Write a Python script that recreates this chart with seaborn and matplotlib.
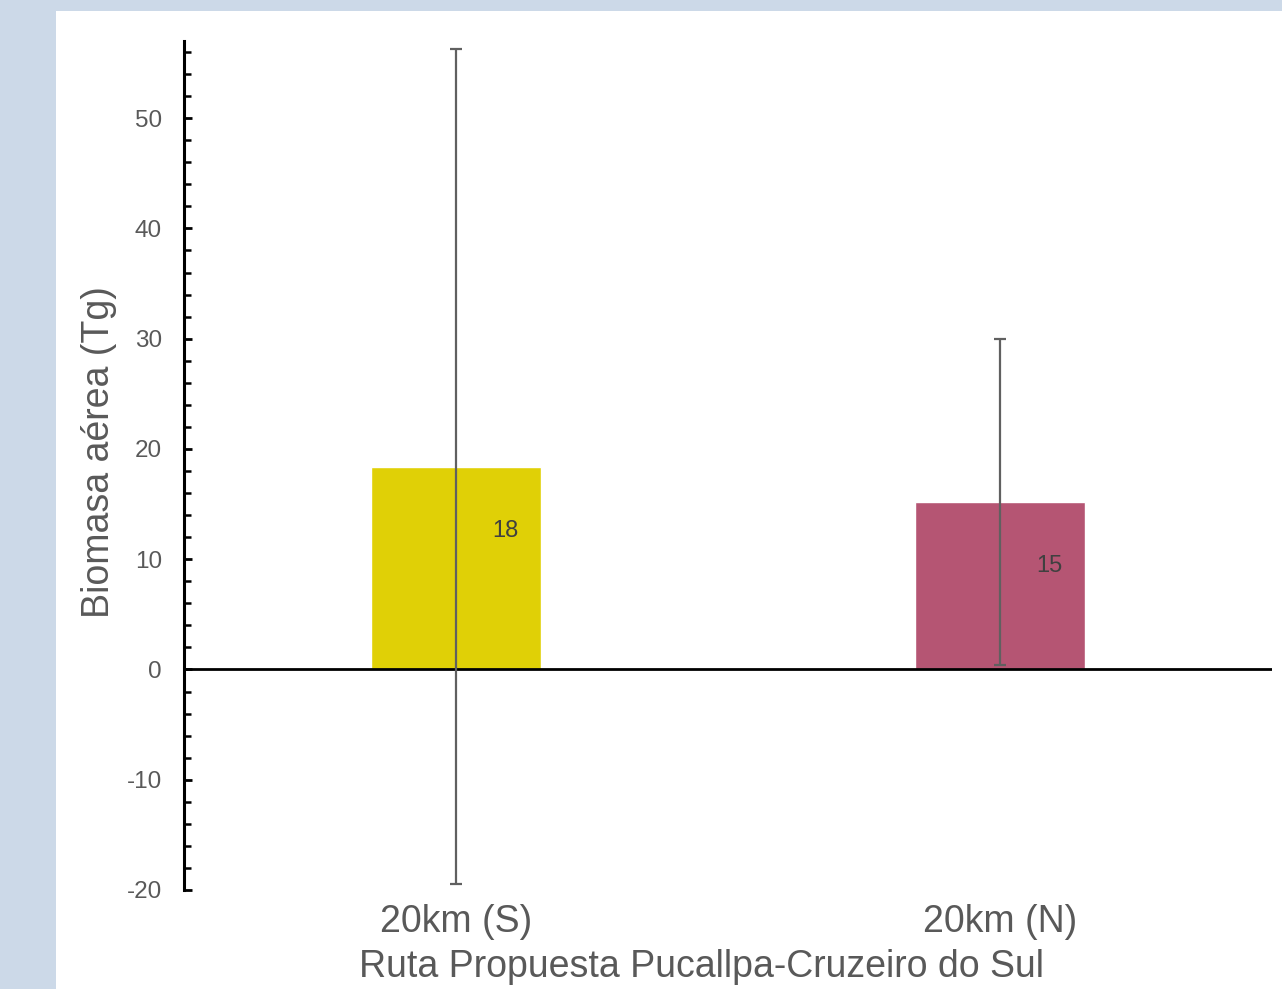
import matplotlib
matplotlib.use("Agg")
import matplotlib.pyplot as plt
import seaborn as sns
import pandas as pd
from matplotlib.patches import Rectangle
from matplotlib.ticker import MultipleLocator

# DATA
categories = ["20km (S)", "20km (N)"]
biomass = [18.4, 15.2]
errors = [37.9, 14.8]
bar_labels = ["18", "15"]
colors = ["#E0D006", "#B55573"]

# STYLE
sns.set_theme(style="white")
plt.rcParams["font.family"] = ["Liberation Sans", "DejaVu Sans"]
plt.rcParams["axes.unicode_minus"] = False

df = pd.DataFrame({"ruta": categories, "biomasa": biomass})

fig = plt.figure(figsize=(12.82, 9.89), dpi=100)
fig.patch.set_facecolor("#CCD9E8")
fig.patches.append(Rectangle((56 / 1282, 0), 1 - 56 / 1282, 1 - 11 / 989,
                             transform=fig.transFigure, facecolor="white",
                             edgecolor="none", zorder=-10))

ax = fig.add_axes([184 / 1282, 1 - 890 / 989, (1272 - 184) / 1282, (890 - 41) / 989])
ax.set_facecolor("none")

sns.barplot(data=df, x="ruta", y="biomasa", hue="ruta", palette=colors,
            width=0.314, errorbar=None, legend=False, saturation=1, ax=ax)

ax.errorbar(range(len(categories)), biomass, yerr=errors, fmt="none",
            ecolor="#606060", elinewidth=1.6, capsize=4.3, capthick=1.6, zorder=3)

for i, (v, lab) in enumerate(zip(biomass, bar_labels)):
    ax.text(i + 0.09, v - 5.85, lab, ha="center", va="center",
            fontsize=17, color="#404040", zorder=4)

ax.axhline(0, color="black", lw=2, zorder=2)

ax.set_xlim(-0.5, 1.5)
ax.set_ylim(-20, 57)
ax.yaxis.set_major_locator(MultipleLocator(10))
ax.yaxis.set_minor_locator(MultipleLocator(2))

for s in ["top", "right", "bottom"]:
    ax.spines[s].set_visible(False)
ax.spines["left"].set_color("black")
ax.spines["left"].set_linewidth(2.2)

ax.tick_params(axis="y", which="major", direction="in", length=6, width=2,
               color="black", labelsize=17.5, labelcolor="#595959", pad=16, left=True)
ax.tick_params(axis="y", which="minor", direction="in", length=5, width=1.8,
               color="black", left=True)
ax.tick_params(axis="x", length=0, labelsize=27, labelcolor="#595959", pad=10)

ax.set_ylabel("Biomasa aérea (Tg)", fontsize=27, color="#595959")
ax.set_xlabel("Ruta Propuesta Pucallpa-Cruzeiro do Sul", fontsize=27,
              color="#595959")
ax.yaxis.set_label_coords(-0.062, 0.516)
ax.xaxis.set_label_coords(0.476, -0.07)

fig.savefig("out.png", dpi=100)
